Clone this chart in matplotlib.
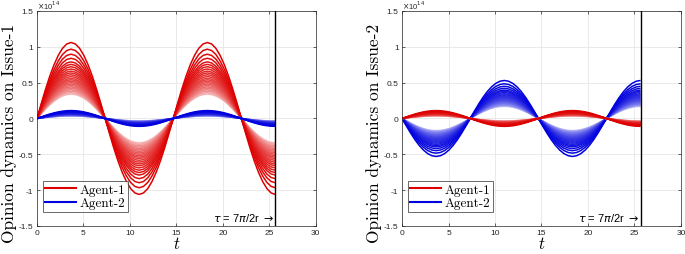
import numpy as np
import matplotlib
matplotlib.use("Agg")
import matplotlib.pyplot as plt

plt.rcParams['mathtext.fontset'] = 'cm'
plt.rcParams['font.family'] = ['Liberation Sans', 'DejaVu Sans']
plt.rcParams['axes.unicode_minus'] = False

# ---- data (opinion values in units of 1e14) ----
t_end = 25.66                      # tau = 7*pi/2r
n_samples = 57
# normalised waveform shape (one sample per grid step)
shape = [0, .195, .383, .556, .707, .831, .924, .981, 1,
         .981, .924, .831, .707, .556, .383, .195, 0,
         -.195, -.383, -.556, -.707, -.831, -.924, -.981, -1,
         -.981, -.924, -.831, -.707, -.556, -.383, -.195, 0,
         .195, .383, .556, .707, .831, .924, .981, 1,
         .981, .924, .831, .707, .556, .383, .195, 0,
         -.195, -.383, -.556, -.707, -.831, -.924, -.981, -1]

# peak amplitudes of each curve in the family (x 1e14), light -> dark
red1_amp = [0.32, 0.34, 0.36, 0.38, 0.40, 0.42, 0.44, 0.46, 0.48, 0.50, 0.52,
            0.54, 0.56, 0.585, 0.61, 0.635, 0.66, 0.69, 0.722, 0.755, 0.79,
            0.84, 0.897, 0.967, 1.06]
blue1_amp = [0.033, 0.035, 0.037, 0.039, 0.042, 0.044, 0.046, 0.048, 0.050,
             0.052, 0.054, 0.056, 0.058, 0.061, 0.063, 0.066, 0.068, 0.072,
             0.075, 0.078, 0.082, 0.087, 0.093, 0.100, 0.110]
red2_amp = blue1_amp
blue2_amp = [-0.16, -0.17, -0.18, -0.19, -0.20, -0.21, -0.22, -0.23, -0.24,
             -0.25, -0.26, -0.27, -0.28, -0.293, -0.305, -0.318, -0.33, -0.345,
             -0.361, -0.378, -0.395, -0.42, -0.449, -0.484, -0.53]

panels = [
    dict(ylabel='Opinion dynamics on Issue-1', series=[('red', red1_amp), ('blue', blue1_amp)]),
    dict(ylabel='Opinion dynamics on Issue-2', series=[('blue', blue2_amp), ('red', red2_amp)]),
]
legend_labels = ['Agent-1', 'Agent-2']
xticks = [0, 5, 10, 15, 20, 25, 30]
yticks = [-1.5, -1, -0.5, 0, 0.5, 1, 1.5]
ytick_labels = ['-1.5', '-1', '-0.5', '0', '0.5', '1', '1.5']

base_cols = {'red': np.array([0.87, 0.0, 0.0]), 'blue': np.array([0.0, 0.0, 0.87])}

t = np.linspace(0, t_end, n_samples)
shape_arr = np.array(shape)

fig = plt.figure(figsize=(6.85, 2.55), dpi=100)
rects = [[0.054, 0.110, 0.407, 0.843], [0.587, 0.110, 0.407, 0.843]]
axis_col = '#262626'
for rect, p in zip(rects, panels):
    ax = fig.add_axes(rect)
    for name, amps in p['series']:
        n = len(amps)
        for i, a in enumerate(amps):
            s = (i / (n - 1)) ** 0.4
            col = (1 - s) * np.array([1, 1, 1]) + s * base_cols[name]
            ax.plot(t, a * shape_arr, color=col, lw=1.1, solid_capstyle='butt', zorder=2)
    ax.axvline(t_end, color='black', lw=1.0, zorder=3)
    ax.text(t_end - 0.15, -1.38, r'$\tau$ = 7$\pi$/2r $\rightarrow$', ha='right', va='center',
            fontsize=8, color='black', math_fontfamily='dejavusans')
    ax.set_xlim(0, 30)
    ax.set_ylim(-1.5, 1.5)
    ax.set_xticks(xticks)
    ax.set_yticks(yticks)
    ax.set_yticklabels(ytick_labels)
    ax.grid(True, color='#e6e6e6', lw=0.6, zorder=0)
    ax.set_axisbelow(True)
    ax.tick_params(direction='in', length=2.5, width=0.5, labelsize=6, colors=axis_col,
                   top=True, right=True, pad=2.5)
    for sp in ax.spines.values():
        sp.set_color(axis_col)
        sp.set_linewidth(0.5)
    ax.text(0.0, 1.0, r'$\times$10$^{14}$', transform=ax.transAxes, fontsize=5.5,
            color=axis_col, ha='left', va='bottom', math_fontfamily='dejavusans')
    ax.set_ylabel(p['ylabel'], family='cmr10', fontsize=12.5)
    ax.yaxis.set_label_coords(-0.072, 0.435)
    ax.set_xlabel(r'$t$', fontsize=12, labelpad=-1)
    h1, = ax.plot([], [], color=base_cols['red'], lw=1.5)
    h2, = ax.plot([], [], color=base_cols['blue'], lw=1.5)
    leg = ax.legend([h1, h2], legend_labels, loc='lower left', bbox_to_anchor=(0.02, 0.065),
                    prop={'family': 'cmr10', 'size': 9.5}, frameon=True, fancybox=False,
                    handlelength=2.3, handletextpad=0.3, borderpad=0.2, labelspacing=0.1,
                    borderaxespad=0)
    leg.get_frame().set_edgecolor(axis_col)
    leg.get_frame().set_linewidth(0.6)

fig.savefig('out.png', dpi=100)
